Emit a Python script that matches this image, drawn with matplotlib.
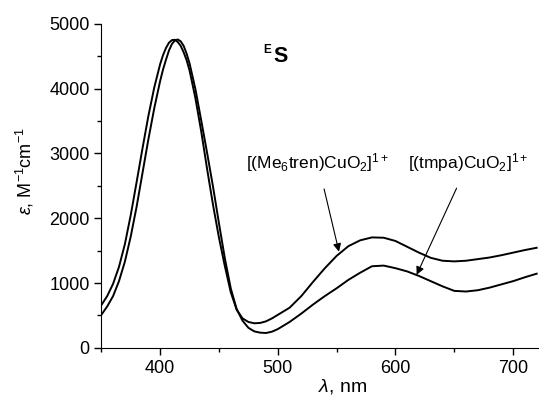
import matplotlib.pyplot as plt
from matplotlib.ticker import MultipleLocator

# absorption spectra (wavelength in nm, epsilon in M^-1 cm^-1)
wl = [350, 355, 360, 365, 370, 375, 380, 385, 390, 395, 400, 402.5, 405, 407.5,
      410, 412.5, 415, 417.5, 420, 422.5, 425, 430, 435, 440, 445, 450, 455,
      460, 465, 470, 475, 480, 485, 490, 495, 500, 510, 520, 530, 540, 550,
      560, 570, 580, 590, 600, 610, 620, 630, 640, 650, 660, 670, 680, 690,
      700, 710, 720]

me6tren = [660, 800, 990, 1250, 1600, 2050, 2560, 3080, 3580, 4020, 4380, 4520,
           4630, 4710, 4750, 4755, 4720, 4660, 4560, 4440, 4280, 3850, 3330,
           2750, 2200, 1700, 1260, 860, 590, 455, 400, 380, 385, 410, 455, 510,
           620, 800, 1020, 1230, 1420, 1570, 1660, 1705, 1700, 1650, 1560, 1470,
           1390, 1345, 1335, 1345, 1370, 1395, 1430, 1470, 1510, 1545]

tmpa = [510, 640, 800, 1030, 1330, 1720, 2180, 2700, 3220, 3700, 4120, 4300,
        4450, 4590, 4690, 4745, 4760, 4730, 4660, 4540, 4390, 3990, 3500, 3000,
        2480, 1920, 1380, 920, 600, 420, 310, 255, 235, 230, 250, 290, 400, 530,
        670, 800, 920, 1050, 1160, 1260, 1270, 1230, 1180, 1110, 1030, 950, 880,
        870, 890, 930, 980, 1030, 1090, 1145]

plt.rcParams['font.family'] = ['Liberation Sans', 'DejaVu Sans']
plt.rcParams['mathtext.fontset'] = 'custom'
plt.rcParams['mathtext.rm'] = 'Liberation Sans'
plt.rcParams['mathtext.it'] = 'Liberation Sans:italic'
plt.rcParams['mathtext.bf'] = 'Liberation Sans:bold'

fig = plt.figure(figsize=(5.39, 4.05), dpi=100)
ax = fig.add_axes([0.188, 0.141, 0.812, 0.8])

ax.plot(wl, me6tren, color='black', lw=1.4)
ax.plot(wl, tmpa, color='black', lw=1.4)

ax.set_xlim(350, 722)
ax.set_ylim(0, 5000)
ax.xaxis.set_major_locator(MultipleLocator(100))
ax.xaxis.set_minor_locator(MultipleLocator(50))
ax.yaxis.set_major_locator(MultipleLocator(1000))
ax.yaxis.set_minor_locator(MultipleLocator(500))
ax.tick_params(which='both', direction='out', width=1, labelsize=13)
ax.tick_params(which='major', length=5)
ax.tick_params(which='minor', length=3)
for s in ['top', 'right']:
    ax.spines[s].set_visible(False)

# axis titles placed where the reference has them
fig.text(343 / 539, 1 - 386 / 405, r'$\lambda$, nm', fontsize=14,
         ha='center', va='center')
fig.text(25 / 539, 1 - 171 / 405, r'$\varepsilon$, M$^{-1}$cm$^{-1}$',
         fontsize=13, rotation=90, ha='center', va='center')

ax.text(491, 4600, 'E', fontsize=8.5, fontweight='bold', ha='center', va='center')
ax.text(502, 4490, 'S', fontsize=15.5, fontweight='bold', ha='center', va='center')

ax.annotate('[(Me$_6$tren)CuO$_2$]$^{1+}$', xy=(552, 1484), xytext=(534, 2860),
            ha='center', va='center', fontsize=12.5,
            arrowprops=dict(arrowstyle='-|>', color='black', lw=0.8,
                            shrinkA=9, shrinkB=0, mutation_scale=12))
ax.annotate('[(tmpa)CuO$_2$]$^{1+}$', xy=(618, 1128), xytext=(662, 2860),
            ha='center', va='center', fontsize=12.5,
            arrowprops=dict(arrowstyle='-|>', color='black', lw=0.8,
                            shrinkA=9, shrinkB=0, mutation_scale=12))

fig.savefig('out.png', dpi=100)
